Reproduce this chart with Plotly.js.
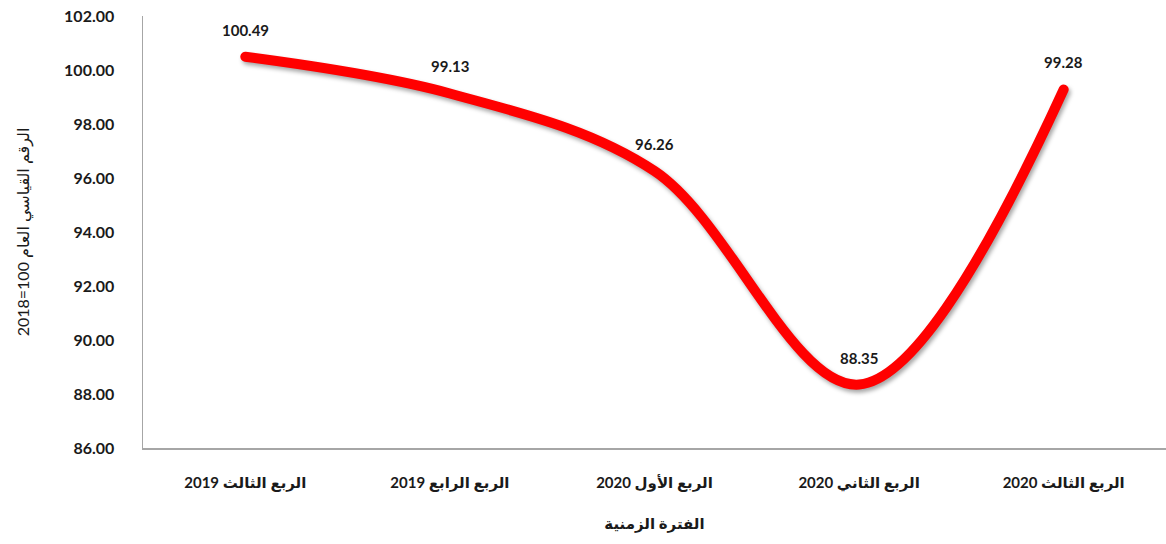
<!DOCTYPE html>
<html>
<head>
<meta charset="utf-8">
<script src="https://cdn.plot.ly/plotly-3.0.1.min.js"></script>
<style>
  html, body { margin: 0; padding: 0; background: #fff; }
  #chart { width: 1166px; height: 544px; }
  .xtick text, .g-ytitle text, .g-xtitle text { direction: rtl; unicode-bidi: embed; }
  .scatterlayer .trace path.js-line { filter: drop-shadow(2px 3px 2px rgba(0,0,0,0.35)); stroke-linecap: round; }
</style>
</head>
<body>
<div id="chart"></div>
<script>
const categories = ["الربع الثالث 2019", "الربع الرابع 2019", "الربع الأول 2020", "الربع الثاني 2020", "الربع الثالث 2020"];
const values = [100.49, 99.13, 96.26, 88.35, 99.28];
const yTickValues = [86, 88, 90, 92, 94, 96, 98, 100, 102];
const yTitle = "الرقم القياسي العام 100=2018";
const xTitle = "الفترة الزمنية";

const fontFamily = "Lato, 'DejaVu Sans', sans-serif";

const trace = {
  x: categories,
  y: values,
  type: "scatter",
  mode: "lines",
  line: { color: "#ff0000", width: 10, shape: "spline", smoothing: 1 },
  hoverinfo: "skip"
};

const annotations = categories.map((c, i) => ({
  x: c, y: values[i], xref: "x", yref: "y",
  text: "<b>" + values[i].toFixed(2) + "</b>",
  showarrow: false, yshift: 27,
  font: { family: fontFamily, size: 15, color: "#1a1a1a" }
}));

const layout = {
  width: 1166, height: 544,
  margin: { l: 143, r: 0, t: 16, b: 96 },
  paper_bgcolor: "#ffffff", plot_bgcolor: "#ffffff",
  showlegend: false,
  font: { family: fontFamily, color: "#1a1a1a" },
  xaxis: {
    type: "category",
    range: [-0.5, categories.length - 0.5],
    showgrid: false, zeroline: false,
    showline: true, linecolor: "#a6a6a6", linewidth: 1.5,
    ticks: "", ticklabelstandoff: 20,
    tickfont: { family: fontFamily, size: 15, color: "#1a1a1a", weight: "bold" },
    title: { text: "<b>" + xTitle + "</b>", standoff: 28, font: { family: fontFamily, size: 15, color: "#1a1a1a" } }
  },
  yaxis: {
    range: [86, 102],
    tickvals: yTickValues,
    ticktext: yTickValues.map(v => v.toFixed(2)),
    showgrid: false, zeroline: false,
    showline: true, linecolor: "#a6a6a6", linewidth: 1.5,
    ticks: "", ticklabelstandoff: 24,
    tickfont: { family: fontFamily, size: 16, color: "#1a1a1a", weight: "bold" },
    title: { text: yTitle, standoff: 30, font: { family: fontFamily, size: 16, color: "#1a1a1a" } }
  },
  annotations: annotations
};

Plotly.newPlot("chart", [trace], layout, { displayModeBar: false, staticPlot: true });
</script>
</body>
</html>
